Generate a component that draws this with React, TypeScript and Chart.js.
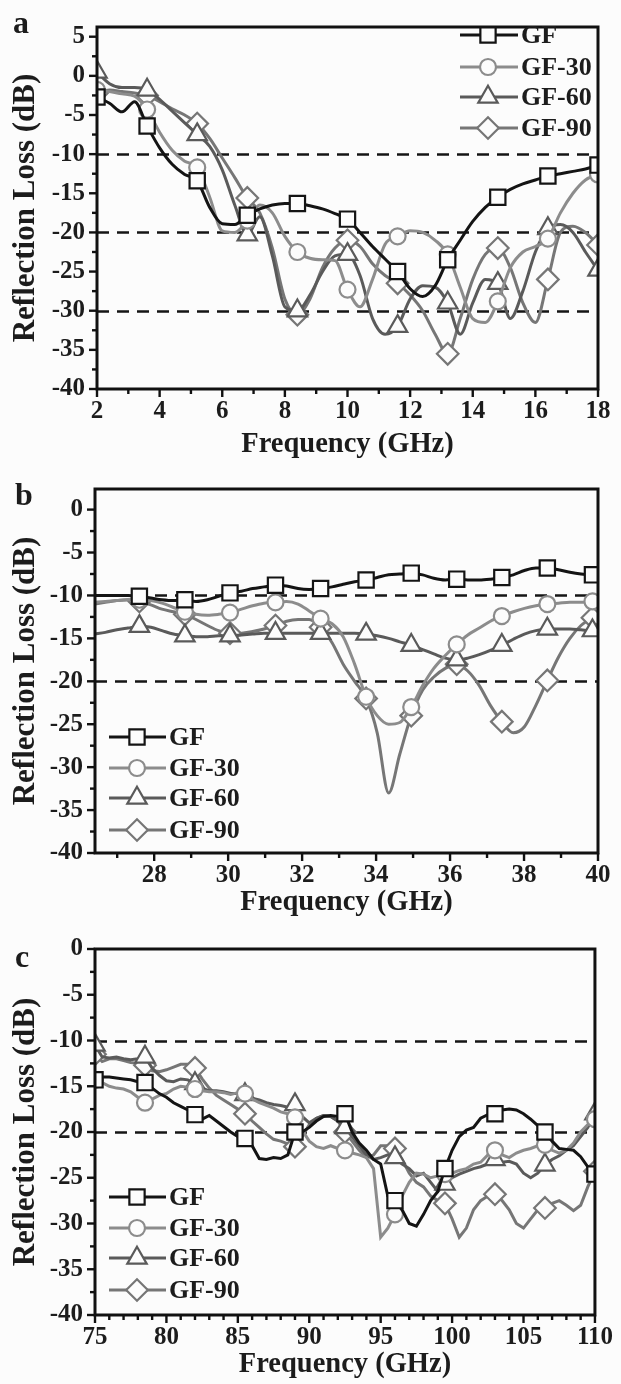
import React, { useEffect, useRef } from 'react';
import { Chart, registerables } from 'chart.js';

Chart.register(...registerables);

const SERIES_NAMES = ['GF', 'GF-30', 'GF-60', 'GF-90'];
const SERIES_COLORS = ['#141414', '#8c8c8c', '#5a5a5a', '#767676'];
const SERIES_SHAPES = ['rect', 'circle', 'triangle', 'rectRot'];
const SERIES_RADII = [10.8, 8, 11.2, 10.8];

// ---------------- Panel a : 2-18 GHz ----------------
const freqA = [2.0, 2.4, 2.8, 3.2, 3.6, 4.0, 4.4, 4.8, 5.2, 5.6,
  6.0, 6.4, 6.8, 7.2, 7.6, 8.0, 8.4, 8.8, 9.2, 9.6,
  10.0, 10.4, 10.8, 11.2, 11.6, 12.0, 12.4, 12.8, 13.2, 13.6,
  14.0, 14.4, 14.8, 15.2, 15.6, 16.0, 16.4, 16.8, 17.2, 17.6,
  18.0];
const gfA = [-2.7, -3.5, -4.6, -3.3, -6.4, -9.2, -11.3, -12.6, -13.4, -16.8,
  -18.9, -19.0, -17.8, -17.0, -16.5, -16.3, -16.3, -16.6, -17.0, -17.6,
  -18.3, -20.0, -21.8, -23.4, -25.0, -27.2, -28.2, -26.8, -23.5, -21.0,
  -18.6, -16.8, -15.5, -14.5, -13.8, -13.3, -12.8, -12.5, -12.2, -11.9,
  -11.4];
const gf30A = [-1.8, -2.0, -2.3, -2.6, -4.3, -7.2, -9.5, -10.9, -11.7, -15.5,
  -19.8, -20.0, -18.5, -16.5, -17.5, -20.5, -22.5, -23.3, -23.5, -23.6,
  -27.3, -29.5, -26.0, -21.5, -20.5, -19.8, -20.0, -21.0, -22.8, -27.0,
  -31.0, -31.5, -28.8, -24.5, -22.5, -21.8, -20.8, -17.5, -15.0, -13.3,
  -12.6];
const gf60A = [0.5, -1.0, -1.5, -1.5, -1.8, -3.0, -4.5, -6.0, -7.5, -9.0,
  -12.0, -16.5, -20.3, -18.0, -23.0, -29.5, -30.0, -28.0, -25.0, -23.0,
  -22.8, -25.5, -31.0, -33.0, -32.0, -28.5, -26.8, -27.0, -29.0, -33.0,
  -29.0, -26.0, -26.5, -31.0, -27.5, -22.5, -19.5, -19.0, -20.0, -22.5,
  -24.8];
const gf90A = [-2.2, -1.8, -2.0, -2.2, -2.5, -3.3, -4.2, -5.0, -6.1, -8.0,
  -10.5, -13.0, -15.6, -17.5, -22.0, -28.5, -30.5, -28.5, -24.5, -22.0,
  -21.0, -21.8, -24.0, -25.5, -26.5, -28.0, -30.0, -33.0, -35.5, -31.0,
  -26.0, -22.8, -22.0, -24.5, -29.0, -31.5, -26.0, -20.0, -19.2, -20.0,
  -21.6];
const markersA = [2.0, 3.6, 5.2, 6.8, 8.4, 10.0, 11.6, 13.2, 14.8, 16.4, 18.0];
const xTicksA = [2, 4, 6, 8, 10, 12, 14, 16, 18];
const yTicksA = [-40, -35, -30, -25, -20, -15, -10, -5, 0, 5];
const refLinesA = [-10, -20, -30];

// ---------------- Panel b : 26.5-40 GHz ----------------
const freqB = [26.38, 26.68, 26.99, 27.29, 27.60, 27.91, 28.21, 28.52, 28.83, 29.13,
  29.44, 29.74, 30.05, 30.36, 30.66, 30.97, 31.28, 31.58, 31.89, 32.19,
  32.50, 32.81, 33.11, 33.42, 33.73, 34.03, 34.34, 34.64, 34.95, 35.26,
  35.56, 35.87, 36.18, 36.48, 36.79, 37.09, 37.40, 37.71, 38.01, 38.32,
  38.63, 38.93, 39.24, 39.54, 39.85, 40.0];
const gfB = [-10.0, -10.0, -10.0, -10.0, -10.1, -10.3, -10.5, -10.6, -10.5, -10.7,
  -10.5, -10.1, -9.7, -9.5, -9.2, -9.0, -8.8, -8.9, -9.2, -9.3,
  -9.2, -9.0, -8.7, -8.4, -8.2, -7.9, -7.6, -7.5, -7.4, -7.6,
  -8.0, -8.2, -8.1, -8.2, -8.2, -8.1, -7.9, -7.6, -7.1, -6.8,
  -6.8, -7.0, -7.3, -7.5, -7.6, -7.7];
const gf30B = [-10.8, -10.7, -10.6, -10.5, -10.5, -10.6, -10.9, -11.4, -11.9, -12.2,
  -12.3, -12.2, -12.0, -11.6, -11.2, -10.9, -10.8, -10.7, -11.0, -11.8,
  -12.7, -13.3, -14.8, -18.0, -21.8, -24.0, -25.0, -24.8, -23.0, -20.5,
  -18.5, -17.0, -15.7, -14.6, -13.8, -13.0, -12.4, -11.9, -11.5, -11.2,
  -11.0, -10.9, -10.8, -10.8, -10.7, -10.7];
const gf60B = [-14.5, -14.3, -14.0, -13.8, -13.6, -13.7, -14.1, -14.5, -14.7, -14.8,
  -14.8, -14.7, -14.7, -14.6, -14.5, -14.4, -14.4, -14.4, -14.4, -14.4,
  -14.4, -14.4, -14.4, -14.4, -14.5, -14.7, -15.0, -15.4, -15.8, -16.3,
  -16.8, -17.3, -17.5, -17.3, -16.9, -16.4, -15.8, -15.1, -14.5, -14.1,
  -13.9, -13.9, -13.9, -14.0, -14.1, -14.1];
const gf90B = [-11.0, -10.8, -10.6, -10.5, -10.7, -11.1, -11.6, -11.9, -12.2, -12.8,
  -13.5, -14.1, -14.4, -14.4, -14.2, -13.9, -13.5, -13.0, -12.8, -12.8,
  -13.7, -15.5, -18.0, -20.0, -22.0, -26.0, -33.0, -28.5, -24.0, -21.0,
  -19.5, -18.5, -18.0, -18.8, -20.5, -22.8, -24.7, -26.0, -25.3, -22.8,
  -19.9, -17.2, -15.0, -13.5, -12.6, -12.3];
const markersB = [27.60, 28.83, 30.05, 31.28, 32.50, 33.73, 34.95, 36.18, 37.40, 38.63, 39.85];
const xTicksB = [28, 30, 32, 34, 36, 38, 40];
const yTicksB = [-40, -35, -30, -25, -20, -15, -10, -5, 0];
const refLinesB = [-10, -20];

// ---------------- Panel c : 75-110 GHz ----------------
const freqC = [75, 75.5, 76, 76.5, 77, 77.5, 78, 78.5, 79, 79.5,
  80, 80.5, 81, 81.5, 82, 82.5, 83, 83.5, 84, 84.5,
  85, 85.5, 86, 86.5, 87, 87.5, 88, 88.5, 89, 89.5,
  90, 90.5, 91, 91.5, 92, 92.5, 93, 93.5, 94, 94.5,
  95, 95.5, 96, 96.5, 97, 97.5, 98, 98.5, 99, 99.5,
  100, 100.5, 101, 101.5, 102, 102.5, 103, 103.5, 104, 104.5,
  105, 105.5, 106, 106.5, 107, 107.5, 108, 108.5, 109, 109.5,
  110];
const gfC = [-14.3, -14.0, -14.0, -14.1, -14.2, -14.3, -14.5, -14.6, -15.2, -15.8,
  -16.2, -16.8, -17.2, -17.6, -18.1, -18.6, -18.2, -18.8, -19.4, -20.0,
  -20.5, -20.7, -21.5, -22.9, -23.0, -22.8, -22.9, -22.5, -20.0, -20.0,
  -19.5, -18.8, -18.3, -18.2, -18.3, -18.0, -20.0, -21.2, -22.0, -23.0,
  -23.5, -27.0, -27.5, -28.5, -30.0, -30.3, -29.0, -27.5, -26.5, -24.0,
  -22.0, -20.5, -19.8, -19.5, -18.5, -18.1, -18.0, -17.6, -17.5, -17.6,
  -18.0, -18.6, -19.3, -20.0, -21.0, -21.8, -21.9, -22.0, -22.7, -23.8,
  -24.6];
const gf30C = [-14.3, -14.6, -15.0, -15.2, -15.3, -15.6, -16.2, -16.8, -16.4, -16.0,
  -15.8, -15.3, -15.0, -15.1, -15.3, -15.5, -15.6, -15.6, -15.7, -15.9,
  -15.7, -15.8, -16.4, -16.8, -17.1, -17.4, -17.8, -18.0, -18.4, -19.8,
  -21.0, -21.6, -21.8, -21.5, -21.8, -22.0, -22.3, -22.5, -22.8, -24.0,
  -31.5, -30.5, -29.0, -27.0, -25.5, -24.5, -24.6, -25.0, -24.8, -24.6,
  -24.5, -24.2, -24.0, -23.5, -23.3, -22.5, -22.0, -22.5, -22.8, -22.3,
  -22.0, -21.8, -21.5, -21.4, -22.0, -22.3, -22.0, -21.2, -20.0, -19.2,
  -18.6];
const gf60C = [-10.5, -11.8, -11.9, -11.8, -12.0, -12.1, -12.0, -11.8, -13.0, -13.8,
  -14.4, -14.5, -14.2, -14.3, -14.7, -15.2, -15.5, -15.5, -15.6, -15.8,
  -15.8, -15.9, -16.3, -16.5, -16.8, -17.0, -17.1, -17.3, -17.0, -18.3,
  -19.0, -18.5, -18.2, -18.3, -18.8, -19.5, -20.5, -21.5, -22.5, -23.0,
  -22.8, -22.5, -22.8, -23.5, -24.0, -24.8, -24.5, -25.5, -26.5, -25.7,
  -25.0, -24.6, -24.3, -24.0, -23.8, -23.5, -23.0, -23.3, -23.2, -23.5,
  -24.5, -25.0, -24.5, -23.6, -23.0, -22.6, -22.0, -21.5, -20.5, -19.5,
  -18.0];
const gf90C = [-11.5, -12.3, -12.0, -12.0, -12.2, -12.4, -12.5, -12.7, -13.3, -13.4,
  -13.2, -12.9, -12.6, -12.6, -13.0, -14.2, -15.2, -16.0, -16.5, -17.0,
  -17.5, -18.0, -18.8, -19.5, -20.2, -20.8, -21.0, -21.3, -21.6, -20.5,
  -19.2, -18.5, -18.2, -18.3, -18.8, -20.0, -21.0, -22.0, -22.8, -22.5,
  -21.5, -21.5, -21.8, -23.0, -24.5, -25.5, -26.0, -27.0, -27.5, -27.8,
  -29.5, -31.5, -30.5, -28.5, -27.5, -27.0, -26.8, -27.5, -28.5, -30.0,
  -30.5, -29.5, -28.5, -28.3, -27.8, -27.5, -28.0, -28.6, -28.0, -26.0,
  -24.3];
const markersC = [75, 78.5, 82, 85.5, 89, 92.5, 96, 99.5, 103, 106.5, 110];
const xTicksC = [75, 80, 85, 90, 95, 100, 105, 110];
const yTicksC = [-40, -35, -30, -25, -20, -15, -10, -5, 0];
const refLinesC = [-10, -20];

// ---------------- styling / layout ----------------
const SERIF = '"Liberation Serif", "Times New Roman", serif';
const TEXT = '#1c1c1c';
const BG = '#fcfcfc';
const W = 621;

type Spec = {
  key: string; label: string; labelX: number; labelY: number;
  top: number; height: number;
  plot: { left: number; right: number; top: number; bottom: number };
  xMin: number; xMax: number; yMin: number; yMax: number;
  xTicks: number[]; yTicks: number[]; xMinor: number; yMinor: number;
  refLines: number[];
  freq: number[]; series: number[][]; markers: number[];
  legend: { x0: number; x1: number; mx: number; tx: number; rows: number[] };
  smooth: boolean; xTitleY: number;
};

const PANELS: Spec[] = [
  {
    key: 'a', label: 'a', labelX: 13, labelY: 33, top: 0, height: 462,
    plot: { left: 97, right: 598, top: 15, bottom: 389 },
    xMin: 2, xMax: 18, yMin: -40, yMax: 6.24,
    xTicks: xTicksA, yTicks: yTicksA, xMinor: 1, yMinor: 2.5, refLines: refLinesA,
    freq: freqA, series: [gfA, gf30A, gf60A, gf90A], markers: markersA,
    legend: { x0: 460, x1: 518, mx: 488, tx: 521, rows: [35, 67, 97, 128] },
    smooth: true, xTitleY: 445,
  },
  {
    key: 'b', label: 'b', labelX: 15, labelY: 43, top: 462, height: 460,
    plot: { left: 95, right: 598, top: 18, bottom: 391 },
    xMin: 26.4, xMax: 40, yMin: -40, yMax: 2.4,
    xTicks: xTicksB, yTicks: yTicksB, xMinor: 1, yMinor: 2.5, refLines: refLinesB,
    freq: freqB, series: [gfB, gf30B, gf60B, gf90B], markers: markersB,
    legend: { x0: 109, x1: 166, mx: 137, tx: 169, rows: [275, 306, 336, 368] },
    smooth: true, xTitleY: 441,
  },
  {
    key: 'c', label: 'c', labelX: 15, labelY: 45, top: 922, height: 462,
    plot: { left: 95, right: 597, top: 20, bottom: 393 },
    xMin: 75, xMax: 110, yMin: -40, yMax: 0,
    xTicks: xTicksC, yTicks: yTicksC, xMinor: 1, yMinor: 2.5, refLines: refLinesC,
    freq: freqC, series: [gfC, gf30C, gf60C, gf90C], markers: markersC,
    legend: { x0: 109, x1: 166, mx: 137, tx: 169, rows: [275, 306, 336, 368] },
    smooth: false, xTitleY: 443,
  },
];

function stepsBetween(min: number, max: number, step: number): number[] {
  const out: number[] = [];
  const s = Math.ceil(min / step - 1e-9);
  const e = Math.floor(max / step + 1e-9);
  for (let k = s; k <= e; k++) out.push(+(k * step).toFixed(6));
  return out;
}

function drawMarker(ctx: CanvasRenderingContext2D, shape: string, x: number, y: number, r: number) {
  ctx.beginPath();
  if (shape === 'rect') {
    const h = r * Math.SQRT1_2;
    ctx.rect(x - h, y - h, 2 * h, 2 * h);
  } else if (shape === 'circle') {
    ctx.arc(x, y, r, 0, Math.PI * 2);
  } else if (shape === 'triangle') {
    for (let i = 0; i < 3; i++) {
      const a = i * (2 * Math.PI) / 3;
      const px = x + Math.sin(a) * r;
      const py = y - Math.cos(a) * r;
      if (i === 0) ctx.moveTo(px, py); else ctx.lineTo(px, py);
    }
    ctx.closePath();
  } else {
    ctx.moveTo(x - r, y); ctx.lineTo(x, y - r); ctx.lineTo(x + r, y); ctx.lineTo(x, y + r);
    ctx.closePath();
  }
  ctx.fill();
  ctx.stroke();
}

function framePlugin(spec: Spec) {
  return {
    id: 'frame_' + spec.key,
    beforeDatasetsDraw(chart: any) {
      const { ctx, chartArea: ca, scales } = chart;
      const y = scales.y;
      ctx.save();
      ctx.strokeStyle = '#151515';
      ctx.lineWidth = 2.5;
      ctx.setLineDash([12, 8]);
      spec.refLines.forEach((v) => {
        const py = Math.round(y.getPixelForValue(v)) + 0.5;
        ctx.beginPath();
        ctx.moveTo(ca.left, py);
        ctx.lineTo(ca.right, py);
        ctx.stroke();
      });
      ctx.restore();
    },
    afterDatasetsDraw(chart: any) {
      const { ctx, chartArea: ca, scales } = chart;
      const x = scales.x, y = scales.y;
      ctx.save();
      ctx.strokeStyle = '#111';
      ctx.lineWidth = 3;
      ctx.strokeRect(ca.left, ca.top, ca.right - ca.left, ca.bottom - ca.top);
      ctx.lineWidth = 2.4;
      const isMajor = (arr: number[], v: number) => arr.some((m) => Math.abs(m - v) < 1e-6);
      stepsBetween(spec.xMin, spec.xMax, spec.xMinor).forEach((v) => {
        const len = isMajor(spec.xTicks, v) ? 8 : 5;
        const px = x.getPixelForValue(v);
        ctx.beginPath(); ctx.moveTo(px, ca.bottom); ctx.lineTo(px, ca.bottom + len); ctx.stroke();
      });
      stepsBetween(spec.yMin, spec.yMax, spec.yMinor).forEach((v) => {
        const len = isMajor(spec.yTicks, v) ? 8 : 5;
        const py = y.getPixelForValue(v);
        ctx.beginPath(); ctx.moveTo(ca.left, py); ctx.lineTo(ca.left - len, py); ctx.stroke();
      });
      const lg = spec.legend;
      ctx.font = `bold 26px ${SERIF}`;
      ctx.textBaseline = 'middle';
      ctx.textAlign = 'left';
      SERIES_NAMES.forEach((name, k) => {
        const ry = lg.rows[k];
        ctx.strokeStyle = SERIES_COLORS[k];
        ctx.lineWidth = 3;
        ctx.beginPath(); ctx.moveTo(lg.x0, ry); ctx.lineTo(lg.x1, ry); ctx.stroke();
        ctx.fillStyle = BG;
        ctx.lineWidth = 2.2;
        drawMarker(ctx, SERIES_SHAPES[k], lg.mx, ry, SERIES_RADII[k]);
        ctx.fillStyle = TEXT;
        ctx.fillText(name, lg.tx, ry + 1);
      });
      ctx.font = `bold 32px ${SERIF}`;
      ctx.textBaseline = 'alphabetic';
      ctx.fillStyle = TEXT;
      ctx.fillText(spec.label, spec.labelX, spec.labelY);
      ctx.restore();
    },
  };
}

function buildConfig(spec: Spec): any {
  const p = spec.plot;
  const xTitleSize = 28.5;
  const yTitleSize = 31;
  const xAxisBottom = spec.xTitleY + xTitleSize / 2;
  const xAxisHeight = xAxisBottom - p.bottom;
  const isMarker = (v: number) => spec.markers.some((m) => Math.abs(m - v) < 1e-6);
  const tickFont = { family: SERIF, size: 25, weight: 'bold' as const };
  return {
    type: 'line',
    data: {
      datasets: spec.series.map((vals, k) => ({
        label: SERIES_NAMES[k],
        data: spec.freq.map((f, i) => ({ x: f, y: vals[i] })),
        borderColor: SERIES_COLORS[k],
        borderWidth: 3,
        pointStyle: SERIES_SHAPES[k],
        pointRadius: (c: any) => (c.raw && isMarker(c.raw.x) ? SERIES_RADII[k] : 0),
        pointHoverRadius: 0,
        pointHitRadius: 0,
        pointBackgroundColor: BG,
        pointBorderColor: SERIES_COLORS[k],
        pointBorderWidth: 2.2,
        cubicInterpolationMode: spec.smooth ? 'monotone' : 'default',
        tension: spec.smooth ? 0.4 : 0,
        clip: 0,
        fill: false,
      })),
    },
    options: {
      animation: false,
      responsive: false,
      devicePixelRatio: 1,
      events: [],
      layout: { padding: { left: 0, top: p.top, right: W - p.right, bottom: spec.height - xAxisBottom } },
      plugins: { legend: { display: false }, tooltip: { enabled: false } },
      scales: {
        x: {
          type: 'linear', min: spec.xMin, max: spec.xMax,
          afterFit: (s: any) => { s.height = xAxisHeight; },
          afterBuildTicks: (s: any) => { s.ticks = spec.xTicks.map((v) => ({ value: v })); },
          grid: { display: false, drawTicks: false },
          border: { display: false },
          ticks: { autoSkip: false, maxRotation: 0, minRotation: 0, padding: 8, color: TEXT, font: tickFont, callback: (v: any) => String(v) },
          title: { display: true, text: 'Frequency (GHz)', color: TEXT, font: { family: SERIF, size: xTitleSize, weight: 'bold', lineHeight: 1 }, padding: { top: 0, bottom: 0 } },
        },
        y: {
          type: 'linear', min: spec.yMin, max: spec.yMax,
          afterFit: (s: any) => { s.width = p.left; },
          afterBuildTicks: (s: any) => { s.ticks = spec.yTicks.map((v) => ({ value: v })); },
          grid: { display: false, drawTicks: false },
          border: { display: false },
          ticks: { autoSkip: false, padding: 12, color: TEXT, font: tickFont, callback: (v: any) => String(v) },
          title: { display: true, text: 'Reflection Loss (dB)', color: TEXT, font: { family: SERIF, size: yTitleSize, weight: 'bold', lineHeight: 1 }, padding: { top: 10, bottom: 0 } },
        },
      },
    },
    plugins: [framePlugin(spec)],
  };
}

function Panel({ spec }: { spec: Spec }) {
  const ref = useRef<HTMLCanvasElement | null>(null);
  useEffect(() => {
    if (!ref.current) return;
    const chart = new Chart(ref.current, buildConfig(spec));
    return () => chart.destroy();
  }, [spec]);
  return (
    <canvas
      ref={ref}
      width={W}
      height={spec.height}
      style={{ position: 'absolute', left: 0, top: spec.top, width: W, height: spec.height, display: 'block' }}
    />
  );
}

export default function App() {
  return (
    <div style={{ position: 'absolute', left: 0, top: 0, width: W, height: 1384, background: BG, overflow: 'hidden' }}>
      {PANELS.map((s) => <Panel key={s.key} spec={s} />)}
    </div>
  );
}
